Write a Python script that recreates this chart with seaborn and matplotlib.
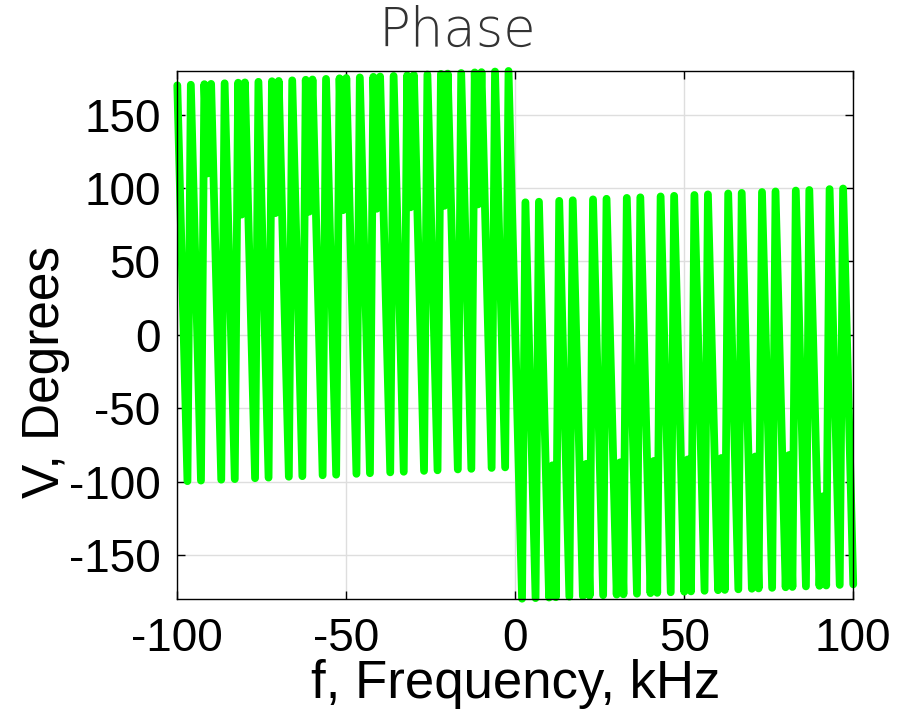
import numpy as np
import pandas as pd
import matplotlib
matplotlib.use("Agg")
import matplotlib.pyplot as plt
import seaborn as sns

# Frequency grid (kHz) and phase values (degrees)
freq_left_khz = list(range(-100, 1))      # -100 ... 0
freq_right_khz = list(range(1, 101))      # 1 ... 100

phase_left_deg = [
    170.0, 80.1, -9.8, -99.7, 170.4, 80.5, -9.4, -99.3, 170.8, 110.0,
    171.0, 81.1, -8.8, -98.7, 171.4, 81.5, -8.4, -98.3, 171.8, 81.9,
    172.0, 82.1, -7.8, -97.7, 172.4, 82.5, -7.4, -97.3, 172.8, 82.9,
    173.0, 83.1, -6.8, -96.7, 173.4, 83.5, -6.4, -96.3, 173.8, 83.9,
    174.0, 84.1, -5.8, -95.7, 174.4, 84.5, -5.4, -95.3, 174.8, 84.9,
    175.0, 85.1, -4.8, -94.7, 175.4, 85.5, -4.4, -94.3, 175.8, 85.9,
    176.0, 86.1, -3.8, -93.7, 176.4, 86.5, -3.4, -93.3, 176.8, 86.9,
    177.0, 87.1, -2.8, -92.7, 177.4, 87.5, -2.4, -92.3, 177.8, 87.9,
    178.0, 88.1, -1.8, -91.7, 178.4, 88.5, -1.4, -91.3, 178.8, 88.9,
    179.0, 89.1, -0.8, -90.7, 179.4, 89.5, -0.4, -90.3, 179.8, 89.9,
    0.0,
]

phase_right_deg = [
    -89.9, -179.8, 90.3, 0.4, -89.5, -179.4, 90.7, 0.8, -89.1, -179.0,
    -88.9, -178.8, 91.3, 1.4, -88.5, -178.4, 91.7, 1.8, -88.1, -178.0,
    -87.9, -177.8, 92.3, 2.4, -87.5, -177.4, 92.7, 2.8, -87.1, -177.0,
    -86.9, -176.8, 93.3, 3.4, -86.5, -176.4, 93.7, 3.8, -86.1, -176.0,
    -85.9, -175.8, 94.3, 4.4, -85.5, -175.4, 94.7, 4.8, -85.1, -175.0,
    -84.9, -174.8, 95.3, 5.4, -84.5, -174.4, 95.7, 5.8, -84.1, -174.0,
    -83.9, -173.8, 96.3, 6.4, -83.5, -173.4, 96.7, 6.8, -83.1, -173.0,
    -82.9, -172.8, 97.3, 7.4, -82.5, -172.4, 97.7, 7.8, -82.1, -172.0,
    -81.9, -171.8, 98.3, 8.4, -81.5, -171.4, 98.7, 8.8, -81.1, -171.0,
    -110.0, -170.8, 99.3, 9.4, -80.5, -170.4, 99.7, 9.8, -80.1, -170.0,
]

x_ticks = [-100, -50, 0, 50, 100]
y_ticks = [-150, -100, -50, 0, 50, 100, 150]

df = pd.DataFrame({
    "f": freq_left_khz + freq_right_khz,
    "phase": phase_left_deg + phase_right_deg,
})

sns.set_theme(style="whitegrid")
plt.rcParams["font.family"] = ["Liberation Sans", "DejaVu Sans"]
plt.rcParams["axes.unicode_minus"] = False

fig = plt.figure(figsize=(9.01, 7.16), dpi=100)
ax = fig.add_axes([0.1968, 0.1634, 0.7502, 0.7379])
ax.set_facecolor("white")

sns.lineplot(data=df, x="f", y="phase", ax=ax, sort=False, estimator=None,
             color="#00ff00", linewidth=5.6)
for ln in ax.lines:
    ln.set_solid_capstyle("round")
    ln.set_solid_joinstyle("round")
    ln.set_clip_on(False)

ax.set_xlim(-100, 100)
ax.set_ylim(-180, 180)
ax.set_xticks(x_ticks)
ax.set_yticks(y_ticks)
ax.set_xticklabels([str(v) for v in x_ticks])
ax.set_yticklabels([str(v) for v in y_ticks])

ax.grid(True, color="#dedede", linewidth=1.0)
ax.set_axisbelow(True)
for s in ax.spines.values():
    s.set_visible(True)
    s.set_color("black")
    s.set_linewidth(1.0)

ax.tick_params(axis="both", which="both", direction="in", length=6, width=1,
               colors="black", labelsize=33, top=True, right=True,
               bottom=True, left=True, labelcolor="black")
ax.tick_params(axis="y", pad=12)
ax.tick_params(axis="x", pad=13)

ax.set_xlabel("f, Frequency, kHz", fontsize=38, color="black")
ax.set_ylabel("V, Degrees", fontsize=37, color="black")
ax.xaxis.label.set_va("center")
ax.yaxis.label.set_va("center")
ax.xaxis.set_label_coords(0.5, (599 - 684) / 528.3)
ax.yaxis.set_label_coords((45 - 177.3) / 676.0, (599 - 372) / 528.3)
fig.text(457 / 901, 1 - 31 / 716, "Phase", fontsize=38, color="#333333",
         ha="center", va="center", family=["DejaVu Sans"], fontweight="light")

fig.savefig("out.png", dpi=100, facecolor="white")
